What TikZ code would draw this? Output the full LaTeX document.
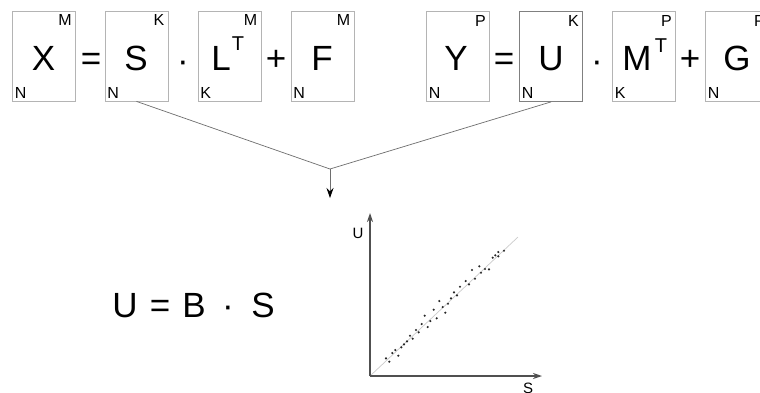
\documentclass[tikz,border=0pt]{standalone}
\usepackage{fontspec}
\setmainfont{Liberation Sans}
\usetikzlibrary{arrows.meta,calc}
\definecolor{boxgray}{HTML}{B4B4B4}
\definecolor{boxdark}{HTML}{808080}
\definecolor{conngray}{HTML}{6E6E6E}
\definecolor{axisgray}{HTML}{505050}
\definecolor{fitgray}{HTML}{CCCCCC}
\tikzset{
  mat/.style={draw=boxgray, line width=0.8pt, minimum width=63pt, minimum height=90pt, inner sep=0pt},
  big/.style={inner sep=0pt, anchor=base, font=\fontsize{35}{37}\selectfont},
  sup/.style={inner sep=0pt, font=\fontsize{20}{22}\selectfont},
  dimtr/.style={inner sep=0pt, anchor=north east, font=\fontsize{16}{17}\selectfont},
  dimbl/.style={inner sep=0pt, anchor=south west, font=\fontsize{16}{17}\selectfont},
  conn/.style={draw=conngray, line width=0.7pt},
  axis/.style={draw=axisgray, line width=1.4pt},
  dot/.style={fill=black!85, draw=none},
  axlabel/.style={inner sep=0pt, font=\fontsize{15}{16}\selectfont},
  tip/.style={-{Stealth[length=10pt,width=7pt,color=black]}},
  axtip/.style={-{Stealth[length=9pt,width=6pt]}}
}
\begin{document}
\begin{tikzpicture}[x=1pt,y=-1pt]
\clip (0,0) rectangle (760,392);
\fill[white] (0,0) rectangle (760,392);
% matrices, left equation
\node[mat] (X) at (44,56) {};
\node[mat] (S) at (136.5,56) {};
\node[mat] (L) at (229.5,56) {};
\node[mat] (F) at (322.5,56) {};
% right equation
\node[mat] (Y) at (458,56.5) {};
\node[mat, draw=boxdark] (U) at (551,56.5) {};
\node[mat] (M) at (644,56.5) {};
\node[mat] (G) at (737,56.5) {};
% big letters (baseline y = 70)
\node[big] (Xt) at (43.5,70) {X};
\node[big] (St) at (136,70) {S};
\node[big] (Lt) at (221,70) {L};
\node[sup] (LT) at (238,44) {T};
\node[big] (Ft) at (322,70) {F};
\node[big] (Yt) at (456,70.5) {Y};
\node[big] (Ut) at (551,70.5) {U};
\node[big] (Mt) at (637,70.5) {M};
\node[sup] (MT) at (661,46) {T};
\node[big] (Gt) at (737,70.5) {G};
% operators
\node[big] (eq1) at (91,70) {=};
\node[big] (dot1) at (183,72) {·};
\node[big] (pl1) at (276,70) {+};
\node[big] (eq2) at (504,70.5) {=};
\node[big] (dot2) at (597,72) {·};
\node[big] (pl2) at (690,70.5) {+};
% dimension labels
\foreach \b/\t/\l in {X/M/N, S/K/N, L/M/K, F/M/N, Y/P/N, U/K/N, M/P/K, G/P/N}{
  \node[dimtr] at ($(\b.north east)+(-4,4)$) {\t};
  \node[dimbl] at ($(\b.south west)+(2.5,-3)$) {\l};
}
% connectors
\coordinate (J) at (330,169);
\coordinate (Jend) at (330,198);
\draw[conn] (S.south) -- (J);
\draw[conn] (U.south) -- (J);
\draw[conn, tip] (J) -- (Jend);
% bottom equation (baseline y = 317)
\node[big] (bU) at (125,317) {U};
\node[big] (bEq) at (160,317) {=};
\node[big] (bB) at (194,317) {B};
\node[big] (bDot) at (228,317) {·};
\node[big] (bS) at (263,317) {S};
% scatter plot
\coordinate (O) at (370,376);
\coordinate (Ytop) at (370,213);
\coordinate (Xend) at (542,376);
\coordinate (Fend) at (518,237);
\draw[draw=fitgray, line width=0.7pt] (O) -- (Fend);
\draw[axis, axtip] (O) -- (Ytop);
\draw[axis, axtip] (O) -- (Xend);
\node[axlabel] (Ul) at (358,233) {U};
\node[axlabel] (Sl) at (528,388) {S};
\foreach \px/\py in {386/358.3,389.3/361.7,392.3/353,395.3/350,398.3/355.7,401.3/347.3,404/344.3,407/341.3,410/335.7,412.7/338.7,416/330,418.7/332.3,421.7/324,424.7/315.7,427.7/327,430.3/321,433.7/309.7,436.7/318.3,439.3/301,442.7/307,445.3/312.7,448/303.7,451/298.3,454/292.3,457/295.3,460/286.7,465.7/281,469/284.3,472/270,475/278.7,479.3/266.3,481/272.7,485/269,489/269.3,492.7/257.7,495.3/255.3,498.3/252,498.3/256.3,504/250.7}{
  \fill[dot] (\px,\py) circle (1.2pt);
}
\end{tikzpicture}
\end{document}
